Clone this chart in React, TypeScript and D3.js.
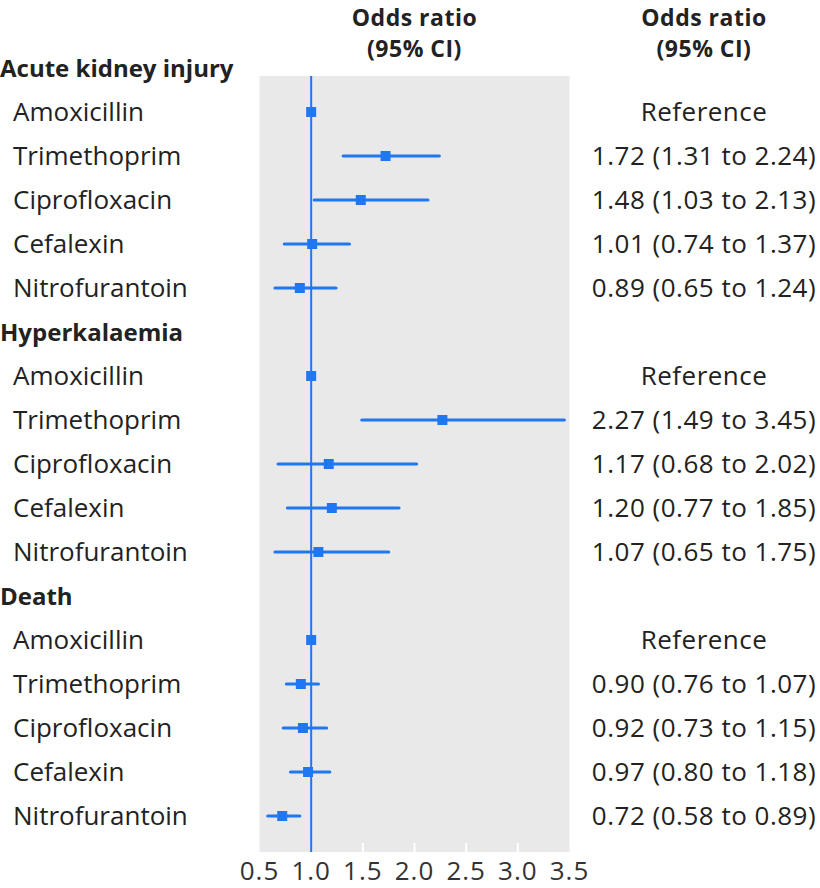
import React from "react";
import * as d3 from "d3";

const groups = ["Acute kidney injury", "Hyperkalaemia", "Death"];
const drugs = ["Amoxicillin", "Trimethoprim", "Ciprofloxacin", "Cefalexin", "Nitrofurantoin"];
const aki = [[1, 1, 1], [1.72, 1.31, 2.24], [1.48, 1.03, 2.13], [1.01, 0.74, 1.37], [0.89, 0.65, 1.24]];
const hyper = [[1, 1, 1], [2.27, 1.49, 3.45], [1.17, 0.68, 2.02], [1.2, 0.77, 1.85], [1.07, 0.65, 1.75]];
const death = [[1, 1, 1], [0.9, 0.76, 1.07], [0.92, 0.73, 1.15], [0.97, 0.8, 1.18], [0.72, 0.58, 0.89]];
const groupValues = [aki, hyper, death];
const ticks = [0.5, 1.0, 1.5, 2.0, 2.5, 3.0, 3.5];
const headerLines = ["Odds ratio", "(95% CI)"];

const BLUE = "#1f77f2";
const TEXT = "#222";
const FONT = "'Open Sans', 'Noto Sans', sans-serif";

type Row = { label: string; heading: boolean; v?: number[]; ref?: boolean };

const rows: Row[] = [];
groups.forEach((g, gi) => {
  rows.push({ label: g, heading: true });
  drugs.forEach((d, di) => {
    rows.push({ label: d, heading: false, v: groupValues[gi][di], ref: di === 0 });
  });
});

const fmt = (n: number) => n.toFixed(2);

export default function App() {
  const W = 820, H = 888;
  const x = d3.scaleLinear().domain([0.5, 3.5]).range([259.5, 569.5]);
  const y = d3.scaleLinear().domain([0, rows.length - 1]).range([68, 816]);
  const panelTop = 76, panelBottom = 852;
  const fs = 26;
  const fb = 24;
  const fh = 23;
  const rightX = 704;
  const headerXs = [(x(0.5) + x(3.5)) / 2, rightX];
  return (
    <svg width={W} height={H} style={{ position: "absolute", left: 0, top: 0 }} fontFamily={FONT}>
      <rect x={0} y={0} width={W} height={H} fill="#fff" />
      <rect x={x(0.5)} y={panelTop} width={x(3.5) - x(0.5)} height={panelBottom - panelTop} fill="#e9e9e9" />
      {ticks.slice(1, -1).map((t) => (
        <line key={t} x1={x(t)} x2={x(t)} y1={panelBottom - 9} y2={panelBottom} stroke="#fff" strokeWidth={2} />
      ))}
      <line x1={x(1)} x2={x(1)} y1={panelTop} y2={panelBottom} stroke={BLUE} strokeWidth={2} />
      {ticks.map((t) => (
        <text key={t} x={x(t)} y={880} textAnchor="middle" fontSize={fs} letterSpacing={1} fill="#333">{t.toFixed(1)}</text>
      ))}
      <g fontWeight="bold" fontSize={fh} letterSpacing={0.5} fill={TEXT} textAnchor="middle">
        {headerXs.map((hx, k) => (
          <g key={k}>
            <text x={hx} y={25.5}>{headerLines[0]}</text>
            <text x={hx} y={57}>{headerLines[1]}</text>
          </g>
        ))}
      </g>
      {rows.map((r, i) => (
        <g key={i}>
          <text x={r.heading ? 0 : 13} y={y(i)} dy="0.36em" fontSize={r.heading ? fb : fs} fontWeight={r.heading ? "bold" : "normal"} fill={TEXT}>{r.label}</text>
          {r.v && (
            <>
              {!r.ref && <line x1={x(r.v[1])} x2={x(r.v[2])} y1={y(i)} y2={y(i)} stroke={BLUE} strokeWidth={3.2} strokeLinecap="round" />}
              <rect x={x(r.v[0]) - 5} y={y(i) - 5} width={10} height={10} fill={BLUE} />
              <text x={rightX} y={y(i)} dy="0.36em" textAnchor="middle" fontSize={fs} letterSpacing={0.5} fill={TEXT}>
                {r.ref ? "Reference" : `${fmt(r.v[0])} (${fmt(r.v[1])} to ${fmt(r.v[2])})`}
              </text>
            </>
          )}
        </g>
      ))}
    </svg>
  );
}
